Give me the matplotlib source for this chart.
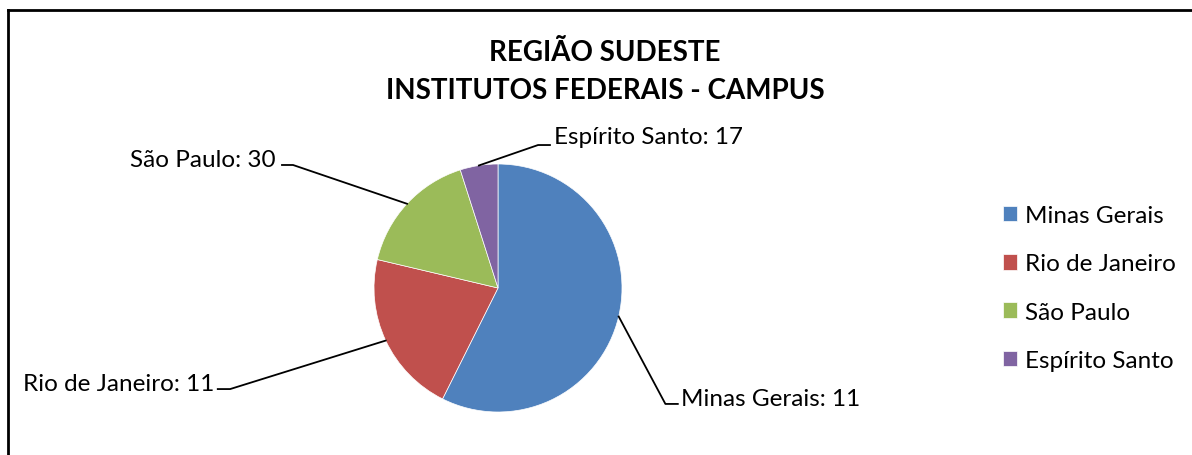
import numpy as np
import matplotlib
matplotlib.use("Agg")
import matplotlib.pyplot as plt
from matplotlib.lines import Line2D

# dados do gráfico
estados = ["Minas Gerais", "Rio de Janeiro", "São Paulo", "Espírito Santo"]
fatias = [35, 13, 10, 3]            # tamanho relativo das fatias
rotulos_valor = [11, 11, 30, 17]    # números escritos nos rótulos
cores = ["#4F81BD", "#C0504D", "#9BBB59", "#8064A2"]

# posição dos rótulos (cotovelo, fim da linha, texto) em coordenadas do pie
cotovelos = [(1.35, -0.935), (-2.16, -0.815), (-1.653, 0.992), (0.323, 1.153)]
fins = [(1.45, -0.935), (-2.26, -0.815), (-1.742, 0.992), (0.419, 1.153)]
textos = [(1.475, -0.895, "left"), (-2.29, -0.77, "right"),
          (-1.79, 1.04, "right"), (0.45, 1.22, "left")]

plt.rcParams["font.family"] = ["Lato", "DejaVu Sans"]

W, H = 1192, 456
fig = plt.figure(figsize=(W / 100, H / 100), dpi=100)

cx, cy, r = 498, 289, 124
ax = fig.add_axes([(cx - r) / W, (H - cy - r) / H, 2 * r / W, 2 * r / H])
wedges, _ = ax.pie(fatias, colors=cores, startangle=90, counterclock=False,
                   radius=1, wedgeprops=dict(edgecolor="white", linewidth=0.5))
ax.set_xlim(-1, 1)
ax.set_ylim(-1, 1)
ax.set_aspect("equal")
ax.axis("off")

for w, nome, v, cot, fim, (tx, ty, ha) in zip(wedges, estados, rotulos_valor,
                                              cotovelos, fins, textos):
    ang = np.deg2rad((w.theta1 + w.theta2) / 2)
    x0, y0 = np.cos(ang), np.sin(ang)
    ax.add_line(Line2D([x0, cot[0], fim[0]], [y0, cot[1], fim[1]],
                       color="black", lw=1.3, clip_on=False))
    ax.text(tx, ty, f"{nome}: {v}", ha=ha, va="center", fontsize=17.5,
            clip_on=False)

fig.text(605 / W, 1 - 72 / H, "REGIÃO SUDESTE\nINSTITUTOS FEDERAIS - CAMPUS",
         ha="center", va="center", fontsize=20, fontweight="bold",
         linespacing=1.55)

fig.legend(wedges, estados, loc="center left",
           bbox_to_anchor=(981 / W, 1 - 289 / H), frameon=False,
           fontsize=17.5, handlelength=0.6, handleheight=0.6,
           handletextpad=0.3, labelspacing=1.12)

# moldura (parcialmente cortada na imagem)
fig.add_artist(Line2D([8 / W, 1], [1 - 11 / H, 1 - 11 / H],
                      transform=fig.transFigure, color="black", lw=2))
fig.add_artist(Line2D([8 / W, 8 / W], [0, 1 - 11 / H],
                      transform=fig.transFigure, color="black", lw=2))

fig.savefig("out.png", dpi=100, facecolor="white")
